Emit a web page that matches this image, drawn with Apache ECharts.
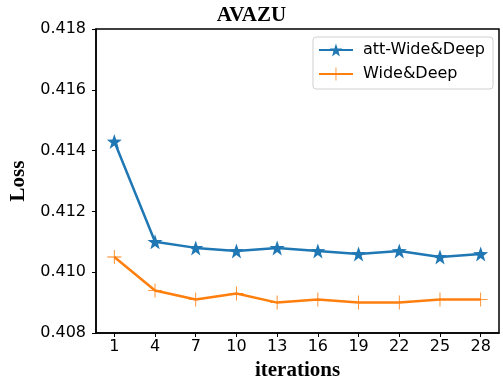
<!DOCTYPE html>
<html>
<head>
<meta charset="utf-8">
<script src="https://cdn.jsdelivr.net/npm/echarts@6/dist/echarts.min.js"></script>
<style>
  html, body { margin: 0; padding: 0; background: #fff; }
  #chart { width: 503px; height: 382px; }
</style>
</head>
<body>
<div id="chart"></div>
<script>
  // iterations on x
  var iterations = [1, 4, 7, 10, 13, 16, 19, 22, 25, 28];
  // loss values
  var attWideDeep = [0.4143, 0.4110, 0.4108, 0.4107, 0.4108, 0.4107, 0.4106, 0.4107, 0.4105, 0.4106];
  var wideDeep = [0.4105, 0.4094, 0.4091, 0.4093, 0.4090, 0.4091, 0.4090, 0.4090, 0.4091, 0.4091];
  var yTicks = [0.408, 0.410, 0.412, 0.414, 0.416, 0.418];

  var starPath = 'path://M0,-10L2.35,-3.24L9.51,-3.09L3.8,1.24L5.88,8.09L0,4L-5.88,8.09L-3.8,1.24L-9.51,-3.09L-2.35,-3.24Z';
  var plusPath = 'path://M-0.6,-10L0.6,-10L0.6,-0.6L10,-0.6L10,0.6L0.6,0.6L0.6,10L-0.6,10L-0.6,0.6L-10,0.6L-10,-0.6L-0.6,-0.6Z';

  function pairs(xs, ys) {
    var out = [];
    for (var i = 0; i < xs.length; i++) out.push([xs[i], ys[i]]);
    return out;
  }

  var serifBold = { fontFamily: 'Liberation Serif', fontWeight: 'bold', fontSize: 21, color: '#000' };

  var chart = echarts.init(document.getElementById('chart'));
  var option = {
    animation: false,
    title: {
      text: 'AVAZU',
      left: 'center',
      top: 5,
      padding: 0,
      textStyle: serifBold
    },
    legend: {
      right: 10,
      top: 37,
      orient: 'vertical',
      itemWidth: 34,
      itemHeight: 16,
      itemGap: 8,
      padding: [5, 8, 7, 5],
      borderColor: '#d0d0d0',
      borderWidth: 1,
      borderRadius: 3,
      textStyle: { fontFamily: 'DejaVu Sans', fontSize: 16, color: '#000', padding: [0, 0, 0, 5] },
      data: ['att-Wide&Deep', 'Wide&Deep']
    },
    grid: {
      left: 96, right: 4, top: 29, bottom: 49,
      outerBoundsMode: 'none',
      show: true, borderColor: '#000', borderWidth: 1.5
    },
    xAxis: {
      type: 'value',
      min: -0.35,
      max: 29.35,
      name: 'iterations',
      nameLocation: 'middle',
      nameGap: 26,
      nameTextStyle: serifBold,
      axisLine: { show: true, onZero: false, lineStyle: { color: '#000', width: 1.5 } },
      axisTick: { show: true, length: 4, lineStyle: { color: '#000' }, customValues: iterations },
      axisLabel: { customValues: iterations, fontFamily: 'DejaVu Sans', fontSize: 16, color: '#000', margin: 6 },
      splitLine: { show: false }
    },
    yAxis: {
      type: 'value',
      min: 0.408,
      max: 0.418,
      name: 'Loss',
      nameLocation: 'middle',
      nameGap: 58,
      nameTextStyle: serifBold,
      axisLine: { show: true, onZero: false, lineStyle: { color: '#000', width: 1.5 } },
      axisTick: { show: true, length: 4, lineStyle: { color: '#000' }, customValues: yTicks },
      axisLabel: {
        customValues: yTicks,
        fontFamily: 'DejaVu Sans', fontSize: 16, color: '#000', margin: 10,
        formatter: function (v) { return v.toFixed(3); }
      },
      splitLine: { show: false }
    },
    series: [
      {
        name: 'att-Wide&Deep',
        type: 'line',
        data: pairs(iterations, attWideDeep),
        symbol: starPath,
        symbolSize: 15,
        color: '#1f77b4',
        lineStyle: { width: 2.5, color: '#1f77b4' },
        itemStyle: { color: '#1f77b4' }
      },
      {
        name: 'Wide&Deep',
        type: 'line',
        data: pairs(iterations, wideDeep),
        symbol: plusPath,
        symbolSize: 14,
        color: '#ff7f0e',
        lineStyle: { width: 2.5, color: '#ff7f0e' },
        itemStyle: { color: '#ff7f0e' }
      }
    ]
  };
  chart.setOption(option);
</script>
</body>
</html>
